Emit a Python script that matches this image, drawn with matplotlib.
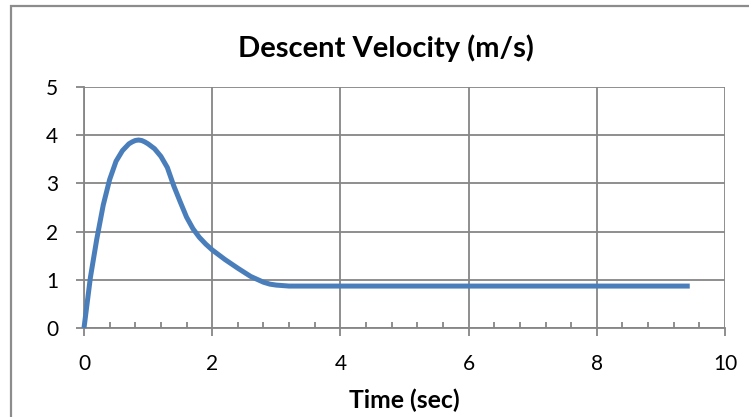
import matplotlib
matplotlib.use("Agg")
import matplotlib.pyplot as plt
from matplotlib.patches import Rectangle
from matplotlib.ticker import MultipleLocator

time_s = [0, 0.1, 0.2, 0.3, 0.4, 0.5, 0.6, 0.7, 0.75, 0.8, 0.85, 0.9, 0.95, 1.0, 1.1, 1.2, 1.3,
          1.4, 1.5, 1.6, 1.7, 1.8, 1.9, 2.0, 2.2, 2.4, 2.6, 2.8, 2.9, 3.0, 3.1, 3.2, 3.5,
          4.0, 5.0, 6.0, 7.0, 8.0, 9.0, 9.45]
velocity = [0, 1.05, 1.85, 2.55, 3.08, 3.46, 3.68, 3.82, 3.86, 3.89, 3.9, 3.89, 3.86, 3.82, 3.72, 3.56, 3.33,
            2.95, 2.62, 2.3, 2.06, 1.88, 1.74, 1.62, 1.42, 1.24, 1.07, 0.95, 0.91, 0.89, 0.88, 0.87, 0.87,
            0.87, 0.87, 0.87, 0.87, 0.87, 0.87, 0.87]
x_ticks = [0, 2, 4, 6, 8, 10]
y_ticks = [0, 1, 2, 3, 4, 5]
title = "Descent Velocity (m/s)"
xlabel = "Time (sec)"

plt.rcParams['font.family'] = ['Lato', 'DejaVu Sans']
W, H = 749, 417
fig = plt.figure(figsize=(W / 100, H / 100), dpi=100)
ax = fig.add_axes([84 / W, 1 - 328 / H, (725 - 84) / W, (328 - 87) / H])

grid_c = '#868686'
ax.plot(time_s, velocity, color='#4A7EBB', lw=3.6, solid_joinstyle='round',
        solid_capstyle='butt', zorder=3, clip_on=False)
ax.set_xlim(0, 10)
ax.set_ylim(0, 5)
ax.set_xticks(x_ticks)
ax.set_yticks(y_ticks)
ax.xaxis.set_minor_locator(MultipleLocator(0.4))
ax.grid(True, which='major', color=grid_c, lw=1.3)
ax.set_axisbelow(True)
for s in ['top', 'right']:
    ax.spines[s].set_visible(False)
for s in ['left', 'bottom']:
    ax.spines[s].set_color(grid_c)
    ax.spines[s].set_linewidth(1.3)
ax.tick_params(which='major', direction='out', length=6, width=1.3, color=grid_c,
               labelsize=15, labelcolor='black')
ax.tick_params(axis='x', which='major', pad=13)
ax.tick_params(axis='y', which='major', pad=12.5)
ax.tick_params(axis='x', which='minor', direction='in', length=4.5, width=1.3, color=grid_c)
ax.tick_params(axis='y', which='minor', left=False)
fig.text(404.5 / W, 1 - 408 / H, xlabel, fontsize=17.8, fontweight='bold',
         ha='center', va='baseline')
fig.text(385.5 / W, 1 - 57 / H, title, fontsize=21, fontweight='bold',
         ha='center', va='baseline')

fig.patches.append(Rectangle((11 / W, -0.1), 1.2, 1 - 6 / H + 0.1, transform=fig.transFigure,
                             fill=False, edgecolor='#8c8c8c', lw=1.6))
fig.savefig('out.png', dpi=100)
